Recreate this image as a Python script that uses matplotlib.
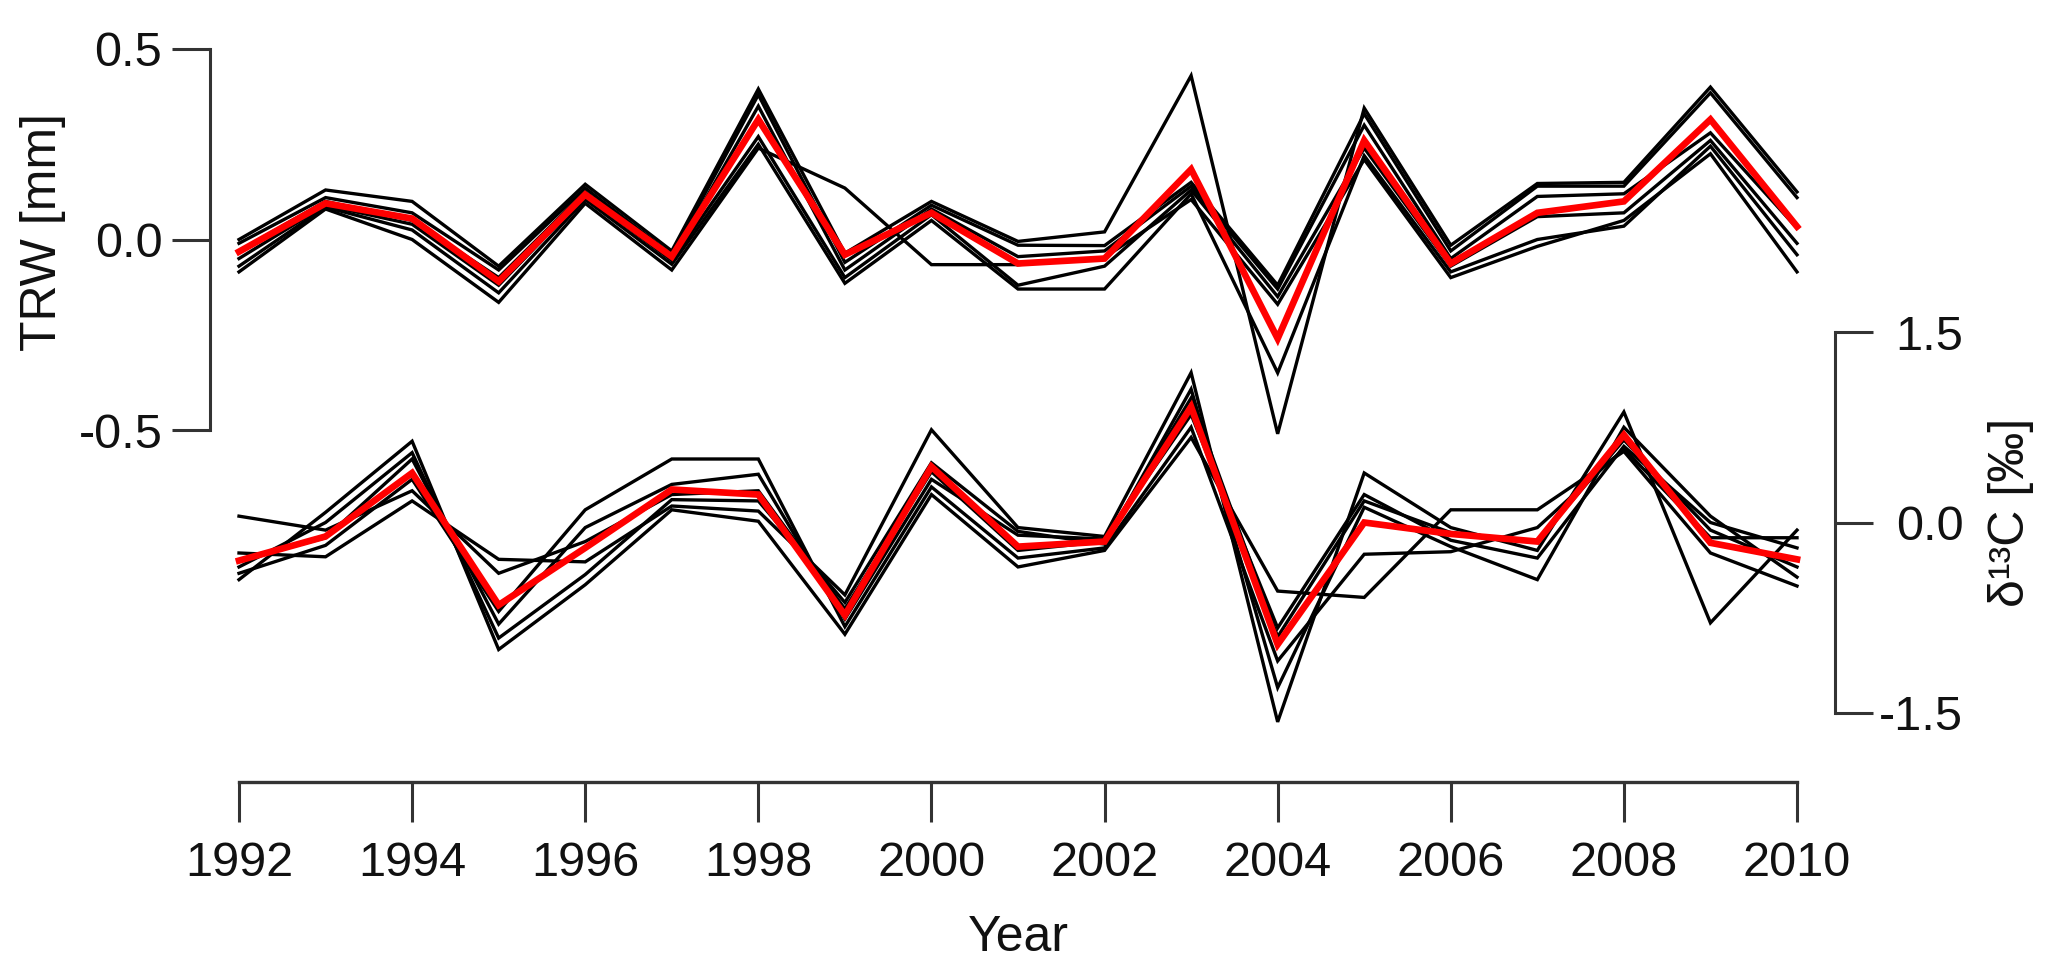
"""Tree-ring width and delta-13C series, individual trees plus mean."""

import numpy as np
import matplotlib
matplotlib.use("Agg")
import matplotlib.pyplot as plt

plt.rcParams["font.family"] = ["Liberation Sans", "DejaVu Sans"]

years = list(range(1992, 2011))

# TRW [mm] – individual trees (black) and mean (red)
trw_trees = [
    [0.0, 0.13, 0.10, -0.07, 0.145, -0.03, 0.395, -0.036, 0.10, -0.005, 0.02, 0.43, -0.51, 0.345, -0.015, 0.147, 0.15, 0.40, 0.125],
    [-0.01, 0.11, 0.07, -0.08, 0.135, -0.04, 0.38, -0.06, 0.09, -0.015, -0.016, 0.15, -0.12, 0.33, -0.03, 0.14, 0.14, 0.385, 0.11],
    [-0.03, 0.10, 0.05, -0.10, 0.125, -0.05, 0.35, -0.08, 0.08, -0.045, -0.03, 0.14, -0.13, 0.30, -0.05, 0.113, 0.12, 0.28, 0.03],
    [-0.05, 0.09, 0.04, -0.12, 0.115, -0.055, 0.27, -0.10, 0.065, -0.12, -0.07, 0.13, -0.15, 0.24, -0.07, 0.06, 0.07, 0.26, -0.01],
    [-0.07, 0.085, 0.025, -0.14, 0.105, -0.065, 0.25, -0.115, 0.05, -0.13, -0.13, 0.12, -0.35, 0.22, -0.085, 0.0, 0.035, 0.245, -0.04],
    [-0.085, 0.08, 0.0, -0.165, 0.095, -0.08, 0.24, 0.135, -0.066, -0.066, -0.047, 0.105, -0.17, 0.21, -0.10, -0.018, 0.05, 0.225, -0.085],
]
trw_mean = [-0.032, 0.095, 0.055, -0.11, 0.118, -0.045, 0.315, -0.04, 0.07, -0.063, -0.05, 0.184,
            -0.26, 0.26, -0.063, 0.07, 0.10, 0.315, 0.034]

# d13C [permil] – individual trees (black) and mean (red)
d13c_trees = [
    [0.05, -0.06, 0.25, -0.40, -0.15, 0.22, 0.25, -0.68, 0.40, -0.22, -0.15, 0.98, -0.90, 0.17, -0.08, -0.15, 0.65, -0.06, -0.35],
    [-0.24, -0.27, 0.17, -0.29, -0.31, 0.13, 0.09, -0.57, 0.73, -0.04, -0.11, 1.18, -1.57, 0.39, -0.04, -0.22, 0.87, -0.79, -0.06],
    [-0.30, -0.12, 0.50, -0.80, -0.04, 0.30, 0.38, -0.76, 0.34, -0.10, -0.13, 0.85, -0.83, 0.22, -0.14, -0.28, 0.60, 0.0, -0.20],
    [-0.35, 0.0, 0.55, -0.91, -0.41, 0.18, 0.17, -0.63, 0.47, -0.07, -0.17, 1.05, -1.30, 0.12, -0.19, -0.45, 0.75, 0.05, -0.43],
    [-0.40, -0.18, 0.34, -0.70, 0.10, 0.50, 0.50, -0.82, 0.28, -0.28, -0.20, 0.75, -1.09, -0.25, -0.23, -0.04, 0.58, -0.12, -0.12],
    [-0.45, 0.08, 0.64, -1.0, -0.49, 0.10, 0.01, -0.88, 0.22, -0.35, -0.22, 0.67, -0.54, -0.59, 0.10, 0.10, 0.56, -0.24, -0.50],
]
d13c_mean = [-0.30, -0.11, 0.39, -0.65, -0.20, 0.26, 0.22, -0.73, 0.44, -0.19, -0.15, 0.91,
             -0.96, 0.0, -0.09, -0.15, 0.69, -0.16, -0.29]

trw_ticks = [-0.5, 0.0, 0.5]
d13c_ticks = [-1.5, 0.0, 1.5]
year_ticks = list(range(1992, 2011, 2))

W, H = 2070, 975
fig = plt.figure(figsize=(W / 100, H / 100), dpi=100)

left, right = 239, 1797
ax_top = fig.add_axes([left / W, (H - 430) / H, (right - left) / W, 381 / H])
ax_bot = fig.add_axes([left / W, (H - 713) / H, (right - left) / W, 381 / H])
for ax in (ax_top, ax_bot):
    ax.patch.set_visible(False)
    ax.set_xlim(1992, 2010)
    for s in ax.spines.values():
        s.set_visible(False)

spine_col = "#333333"
px = 72 / 100  # pixels -> points

# black individual series, then red mean on top
for tr in trw_trees:
    ax_top.plot(years, tr, color="black", lw=2.4, clip_on=False, solid_joinstyle="miter")
ax_top.plot(years, trw_mean, color="#ff0000", lw=4.8, clip_on=False, solid_joinstyle="miter")

for tr in d13c_trees:
    ax_bot.plot(years, tr, color="black", lw=2.4, clip_on=False, solid_joinstyle="miter")
ax_bot.plot(years, d13c_mean, color="#ff0000", lw=4.8, clip_on=False, solid_joinstyle="miter")

# top panel: left axis only
ax_top.set_ylim(-0.5, 0.5)
ax_top.spines["left"].set_visible(True)
ax_top.spines["left"].set_position(("outward", 29 * px))
ax_top.spines["left"].set_color(spine_col)
ax_top.spines["left"].set_linewidth(2.2)
ax_top.set_yticks(trw_ticks)
ax_top.set_yticklabels(["-0.5", "0.0", "0.5"])
ax_top.set_xticks([])
ax_top.tick_params(axis="y", length=38 * px, width=2.2, color=spine_col,
                   labelsize=35, pad=7, labelcolor="#111111")
ax_top.set_ylabel("TRW [mm]", fontsize=36, color="#111111")
ax_top.yaxis.set_label_coords((66 - left) / (right - left), 198 / 381)

# bottom panel: right axis + detached year axis
ax_bot.set_ylim(-1.5, 1.5)
ax_bot.yaxis.tick_right()
ax_bot.yaxis.set_label_position("right")
ax_bot.spines["right"].set_visible(True)
ax_bot.spines["right"].set_position(("outward", 38 * px))
ax_bot.spines["right"].set_color(spine_col)
ax_bot.spines["right"].set_linewidth(2.2)
ax_bot.set_yticks(d13c_ticks)
ax_bot.set_yticklabels(["-1.5", "0.0", "1.5"])
ax_bot.tick_params(axis="y", length=38 * px, width=2.2, color=spine_col,
                   labelsize=35, pad=65, labelcolor="#111111")
plt.setp(ax_bot.yaxis.get_majorticklabels(), ha="right")
ax_bot.set_ylabel("δ¹³C [‰]", fontsize=36, color="#111111", rotation=90)
ax_bot.yaxis.set_label_coords((1988 - left) / (right - left), 201 / 381)

ax_bot.spines["bottom"].set_visible(True)
ax_bot.spines["bottom"].set_position(("outward", 69 * px))
ax_bot.spines["bottom"].set_color(spine_col)
ax_bot.spines["bottom"].set_linewidth(2.4)
ax_bot.set_xticks(year_ticks)
ax_bot.set_xticklabels([str(y) for y in year_ticks])
ax_bot.tick_params(axis="x", length=40 * px, width=2.2, color=spine_col,
                   labelsize=35, pad=14, labelcolor="#111111")
ax_bot.set_xlabel("Year", fontsize=36, color="#111111")
ax_bot.xaxis.set_label_coords(0.5, -202 / 381)

fig.savefig("out.png", dpi=100)
